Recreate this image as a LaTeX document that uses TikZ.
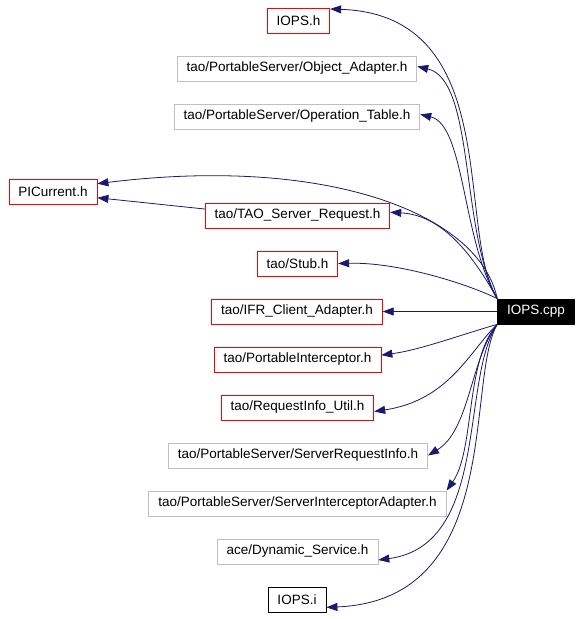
\documentclass[tikz,border=0pt]{standalone}
\usepackage{fontspec}
\setmainfont{Liberation Sans}
\usetikzlibrary{arrows.meta}
\definecolor{dx_red}{RGB}{255, 0, 0}
\definecolor{dx_gray}{RGB}{191, 191, 191}
\definecolor{dx_blue}{RGB}{25, 25, 112}
\tikzstyle{hb}=[rectangle,draw=black,line width=0.8pt,inner xsep=9.5pt,
  inner ysep=0pt,minimum height=25pt,font=\fontsize{13.5}{15}\selectfont]
\tikzstyle{rb}=[hb,draw=dx_red]
\tikzstyle{gb}=[hb,draw=dx_gray]
\tikzstyle{kb}=[hb,draw=black]
\tikzstyle{cb}=[hb,fill=black,text=white]
\tikzstyle{dep}=[draw=dx_blue,line width=0.8pt,
  -{Triangle[length=11pt,width=8pt]}]
\begin{document}
\begin{tikzpicture}[x=1pt,y=-1pt]
    \useasboundingbox (0,0) rectangle (583,619);
    \node [style=cb] (cpp) at (536, 311.5) {IOPS.cpp};
    \node [style=rb] (ioh) at (298.5, 20.5) {IOPS.h};
    \node [style=gb] (oa) at (297, 68.5) {tao/PortableServer/Object\_Adapter.h};
    \node [style=gb] (ot) at (297, 116.5) {tao/PortableServer/Operation\_Table.h};
    \node [style=rb] (pic) at (53, 191.5) {PICurrent.h};
    \node [style=rb] (tsr) at (297.5, 215.5) {tao/TAO\_Server\_Request.h};
    \node [style=rb] (stub) at (297.5, 263.5) {tao/Stub.h};
    \node [style=rb] (ifr) at (297, 311.5) {tao/IFR\_Client\_Adapter.h};
    \node [style=rb] (pi) at (297.5, 359.5) {tao/PortableInterceptor.h};
    \node [style=rb] (riu) at (297.5, 407.5) {tao/RequestInfo\_Util.h};
    \node [style=gb] (sri) at (298, 455.5) {tao/PortableServer/ServerRequestInfo.h};
    \node [style=gb] (sia) at (297.5, 503.5) {tao/PortableServer/ServerInterceptorAdapter.h};
    \node [style=gb] (ds) at (297.5, 551.5) {ace/Dynamic\_Service.h};
    \node [style=kb] (ioi) at (297, 599.5) {IOPS.i};
    % upward dependencies
    \draw [style=dep] (cpp.north west) .. controls (455, 230) and (505, 15) .. (ioh.20);
    \draw [style=dep] (cpp.north west) .. controls (460, 230) and (475, 80) .. (oa.1);
    \draw [style=dep] (cpp.north west) .. controls (462, 240) and (465, 125) .. (ot.1);
    \draw [style=dep] (cpp.north west) .. controls (480, 215) and (330, 155) .. (pic.10);
    \draw [style=dep] (tsr.176) -- (pic.-8);
    \draw [style=dep] (cpp.north west) .. controls (470, 250) and (440, 215) .. (tsr.2);
    \draw [style=dep] (cpp.north west) .. controls (470, 285) and (400, 262) .. (stub.east);
    \draw [style=dep] (cpp.west) -- (ifr.east);
    % downward dependencies
    \draw [style=dep] (cpp.south west) .. controls (460, 335) and (420, 350) .. (pi.3);
    \draw [style=dep] (cpp.south west) .. controls (470, 350) and (450, 400) .. (riu.-3);
    \draw [style=dep] (cpp.south west) .. controls (470, 360) and (470, 430) .. (sri.east);
    \draw [style=dep] (cpp.south west) .. controls (465, 360) and (475, 450) .. (sia.north east);
    \draw [style=dep] (cpp.south west) .. controls (460, 380) and (490, 545) .. (ds.-6);
    \draw [style=dep] (cpp.south west) .. controls (465, 380) and (505, 600) .. (ioi.-15);
\end{tikzpicture}
\end{document}
